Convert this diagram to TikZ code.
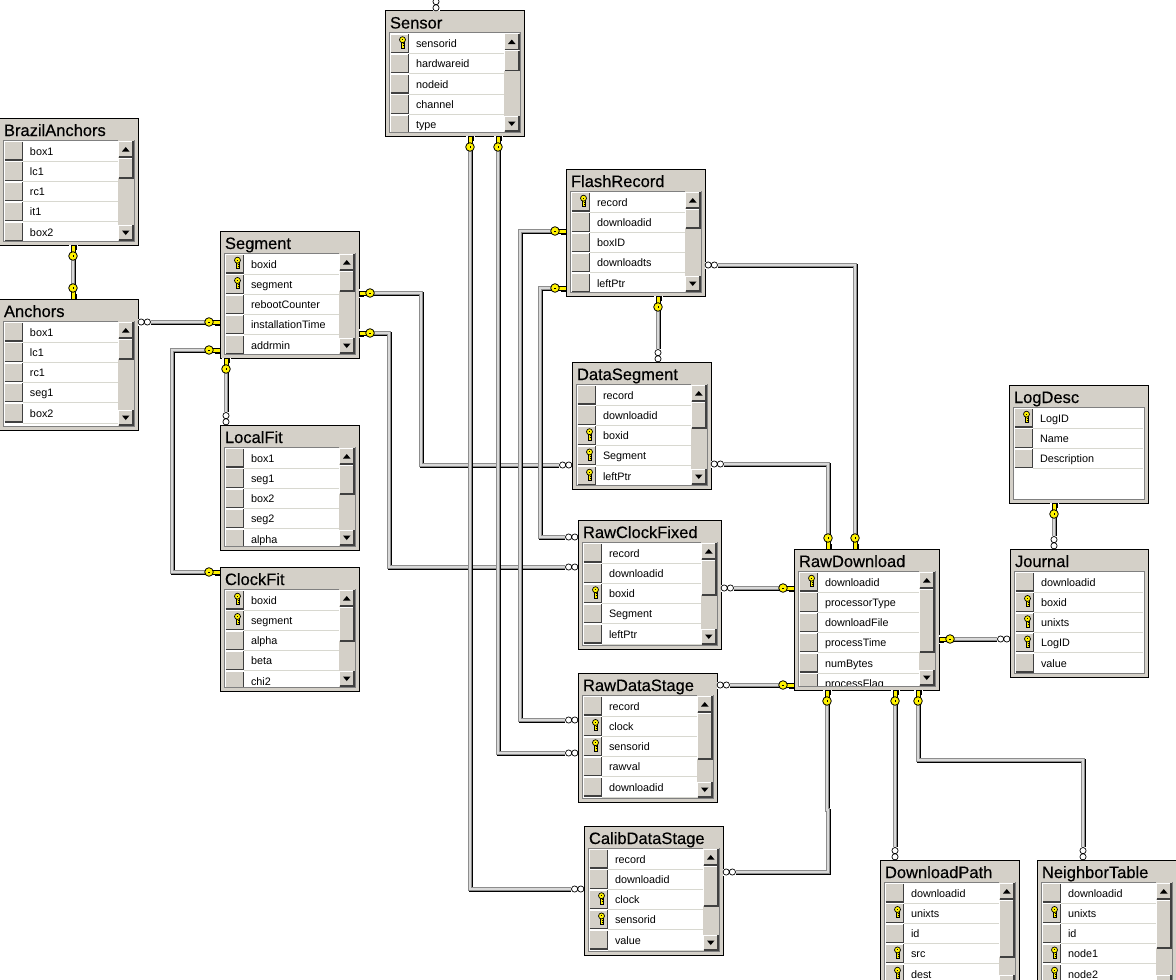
\documentclass[tikz,border=0pt]{standalone}
\usepackage{fontspec}
\setmainfont{Liberation Sans}
\newfontfamily\titlefont[FakeBold=0.4]{Liberation Sans}
\usetikzlibrary{positioning}
\definecolor{winface}{HTML}{D4D0C8}
\definecolor{winshade}{HTML}{808080}
\definecolor{rowline}{HTML}{D8D8D0}
\definecolor{keygold}{HTML}{FFF200}
\tikzset{
    tablebox/.style={draw=black,fill=winface,line width=1pt,outer sep=0pt,inner sep=0pt},
    tabletitle/.style={font=\titlefont\fontsize{16.5}{16.5}\selectfont,inner sep=0pt,outer sep=0pt},
    rowtext/.style={font=\fontsize{10.8}{11}\selectfont,inner sep=0pt,outer sep=0pt},
    relshadow/.style={line width=3.6pt,draw=black,transform canvas={shift={(.7pt,-.7pt)}}},
    rel/.style={line width=3.6pt,draw=winshade!90!white,
        postaction={draw=white!70!winshade,line width=1.3pt}},
    pointE/.style={},
    pointN/.style={rotate=90},
    pointW/.style={rotate=180,yscale=-1},
    pointS/.style={rotate=-90,yscale=-1},
    pics/keyend/.style={code={
        \fill[white] (0,-4) rectangle (9,5);
        \fill[keygold] (.6,0) rectangle (2,3.2) (3.2,0) rectangle (4.6,3.2);
        \draw[line width=.4pt] (.6,1.8) -- (.6,3.2) -- (2,3.2) -- (2,1.8) (3.2,1.8) -- (3.2,3.2) -- (4.6,3.2) -- (4.6,1.8);
        \draw[fill=keygold,line width=.4pt] (0,-1.8) rectangle (8,1.8);
        \draw[fill=keygold,line width=.8pt] (11,0) circle (4.3);
        \draw[line width=.8pt] (10,0) -- (12.2,0);
    }},
    pics/manyend/.style={code={
        \fill[white] (0,-3.5) rectangle (13,3.5);
        \draw[fill=white,line width=.7pt] (3.2,0) circle (3.1) (9.4,0) circle (3.1);
    }},
    pics/rowkey/.style={code={
        \draw[fill=keygold,line width=.5pt] (-1.3,-1) -- (1.3,-1) -- (1.3,5.4) -- (-1.3,5.4) -- cycle;
        \draw[fill=keygold,line width=.7pt] (0,-2.8) circle (3);
        \draw[line width=.5pt] (-.9,-3.2) -- (.9,-3.2) (0,1) -- (2.4,1) (0,3) -- (2.4,3);
    }},
}
\newcommand{\raisedbtn}[4]{
    \fill[winface] (#1,#2) rectangle (#3,#4);
    \draw[white,line width=.8pt] (#1,#4) -- (#1,#2) -- (#3,#2);
    \draw[black!75,line width=1.3pt] (#1,#4) -- (#3,#4) -- (#3,#2);
}
\newcommand{\dbtable}[7]{
    \begin{scope}[shift={(#2,#3)}]
    \node[tablebox,anchor=north west,minimum width=#4pt,minimum height=#5pt] (#1) at (0,0) {};
    \node[tabletitle,anchor=base west] (#1-title) at (5,18) {#1};
    \pgfmathsetmacro\barleft{#6>0 ? #4-20 : #4-5}
    \draw[winshade,fill=white,line width=.8pt] (4,22) rectangle (#4-4,#5-4);
    \begin{scope}
    \clip (4,22) rectangle (\barleft,#5-5);
    \foreach \rowname/\rowflag [count=\rowno] in {#7} {
        \pgfmathsetmacro\rowy{33+(\rowno-1)*20.25}
        \raisedbtn{5.7}{\rowy-9.5}{23.5}{\rowy+9}
        \draw[rowline,line width=1pt] (24,\rowy+10) -- (\barleft,\rowy+10);
        \node[rowtext,anchor=base west] (#1-\rowno) at (31,\rowy+4) {\rowname};
        \ifnum\rowflag=1 \pic at (17.5,\rowy-1) {rowkey}; \fi
    }
    \end{scope}
    \ifnum#6>0
        \fill[winface] (\barleft,22) rectangle (#4-4,#5-4);
        \raisedbtn{\barleft+.5}{23}{#4-5}{39}
        \raisedbtn{\barleft+.5}{40}{#4-5}{40+#6}
        \raisedbtn{\barleft+.5}{#5-20}{#4-5}{#5-5}
        \fill (\barleft+4,33.5) -- (\barleft+11.5,33.5) -- (\barleft+7.75,29) -- cycle;
        \fill (\barleft+4,#5-14.5) -- (\barleft+11.5,#5-14.5) -- (\barleft+7.75,#5-10) -- cycle;
    \fi
    \end{scope}
}
\newcommand{\relline}[1]{
    \draw[relshadow] #1;
    \draw[rel] #1;
}
\begin{document}
\begin{tikzpicture}[x=1pt,y=-1pt]
    \useasboundingbox (0,0) rectangle (1176,980);
    \clip (0,0) rectangle (1176,980);
    \dbtable{Sensor}{385}{10.5}{139}{125.5}{20}{sensorid/1,hardwareid/0,nodeid/0,channel/0,type/0}
    \dbtable{BrazilAnchors}{-1}{118}{139}{127}{20}{box1/0,lc1/0,rc1/0,it1/0,box2/0}
    \dbtable{Anchors}{-1}{299}{139}{131}{20}{box1/0,lc1/0,rc1/0,seg1/0,box2/0}
    \dbtable{Segment}{220}{231}{139}{127}{20}{boxid/1,segment/1,rebootCounter/0,installationTime/0,addrmin/0}
    \dbtable{LocalFit}{220}{425}{139}{125}{29}{box1/0,seg1/0,box2/0,seg2/0,alpha/0}
    \dbtable{ClockFit}{220}{567}{139}{124}{34}{boxid/1,segment/1,alpha/0,beta/0,chi2/0}
    \dbtable{FlashRecord}{566}{169}{139}{127}{19}{record/1,downloadid/0,boxID/0,downloadts/0,leftPtr/0}
    \dbtable{DataSegment}{572}{362}{139}{127}{26}{record/0,downloadid/0,boxid/1,Segment/1,leftPtr/1}
    \dbtable{RawClockFixed}{578}{520}{143}{129}{35}{record/0,downloadid/0,boxid/1,Segment/0,leftPtr/0}
    \dbtable{RawDataStage}{578}{673}{139}{129}{46}{record/0,clock/1,sensorid/1,rawval/0,downloadid/0}
    \dbtable{CalibDataStage}{584}{826}{139}{129}{40}{record/0,downloadid/0,clock/1,sensorid/1,value/0}
    \dbtable{RawDownload}{794}{549}{145}{141}{63}{downloadid/1,processorType/0,downloadFile/0,processTime/0,numBytes/0,processFlag/0}
    \dbtable{LogDesc}{1009}{385}{139}{118}{0}{LogID/1,Name/0,Description/0}
    \dbtable{Journal}{1010}{549}{138}{128}{0}{downloadid/0,boxid/1,unixts/1,LogID/1,value/0}
    \dbtable{DownloadPath}{880}{860}{139}{135}{57}{downloadid/0,unixts/1,id/0,src/1,dest/1}
    \dbtable{NeighborTable}{1037}{860}{139}{135}{48}{downloadid/0,unixts/1,id/0,node1/1,node2/1}
    \coordinate (sensorTop) at (436,0);
    \relline{(BrazilAnchors.south -| 73,0) -- (Anchors.north -| 73,0)}
    \relline{(Anchors.east |- 0,322) -- (Segment.west |- 0,322)}
    \relline{(Segment.west |- 0,350) -- (172,350) -- (172,572) -- (ClockFit.west |- 0,572)}
    \relline{(Segment.south -| 226,0) -- (LocalFit.north -| 226,0)}
    \relline{(Segment.east |- 0,293) -- (421,293) -- (421,465) -- (DataSegment.west |- 0,465)}
    \relline{(Segment.east |- 0,333) -- (389,333) -- (389,567) -- (RawClockFixed.west |- 0,567)}
    \relline{(FlashRecord.west |- 0,231) -- (520,231) -- (520,720) -- (RawDataStage.west |- 0,720)}
    \relline{(FlashRecord.west |- 0,288) -- (540,288) -- (540,537) -- (RawClockFixed.west |- 0,537)}
    \relline{(Sensor.south -| 470,0) -- (470,889) -- (CalibDataStage.west |- 0,889)}
    \relline{(Sensor.south -| 498,0) -- (498,753) -- (RawDataStage.west |- 0,753)}
    \relline{(Sensor.north -| 436,0) -- (sensorTop)}
    \relline{(FlashRecord.east |- 0,265) -- (855,265) -- (RawDownload.north -| 855,0)}
    \relline{(DataSegment.east |- 0,464) -- (828,464) -- (RawDownload.north -| 828,0)}
    \relline{(FlashRecord.south -| 658,0) -- (DataSegment.north -| 658,0)}
    \relline{(RawClockFixed.east |- 0,588) -- (RawDownload.west |- 0,588)}
    \relline{(RawDataStage.east |- 0,685) -- (RawDownload.west |- 0,685)}
    \relline{(CalibDataStage.east |- 0,872) -- (828,872) -- (828,810) -- (827,810) -- (RawDownload.south -| 827,0)}
    \relline{(RawDownload.east |- 0,639) -- (Journal.west |- 0,639)}
    \relline{(LogDesc.south -| 1054,0) -- (Journal.north -| 1054,0)}
    \relline{(RawDownload.south -| 895,0) -- (DownloadPath.north -| 895,0)}
    \relline{(RawDownload.south -| 918,0) -- (918,760) -- (1083,760) -- (NeighborTable.north -| 1083,0)}
    \foreach \keyx/\keyy/\keydir in {
        73/245/pointS,73/299/pointN,220/322/pointW,220/350/pointW,220/572/pointW,226/358/pointS,
        359/293/pointE,359/333/pointE,566/231/pointW,566/288/pointW,470/136/pointS,498/136/pointS,
        855/549/pointN,828/549/pointN,658/296/pointS,794/588/pointW,794/685/pointW,827/690/pointS,
        939/639/pointE,1054/503/pointS,895/690/pointS,918/690/pointS} {
        \pic[\keydir] at (\keyx,\keyy) {keyend};
    }
    \foreach \manyx/\manyy/\manydir in {
        138/322/pointE,226/425/pointN,572/465/pointW,578/567/pointW,578/720/pointW,578/537/pointW,
        584/889/pointW,578/753/pointW,436/11/pointN,705/265/pointE,711/464/pointE,658/362/pointN,
        721/588/pointE,717/685/pointE,723/872/pointE,1010/639/pointW,895/860/pointN,1083/860/pointN,
        1054/549/pointN} {
        \pic[\manydir] at (\manyx,\manyy) {manyend};
    }
\end{tikzpicture}
\end{document}
